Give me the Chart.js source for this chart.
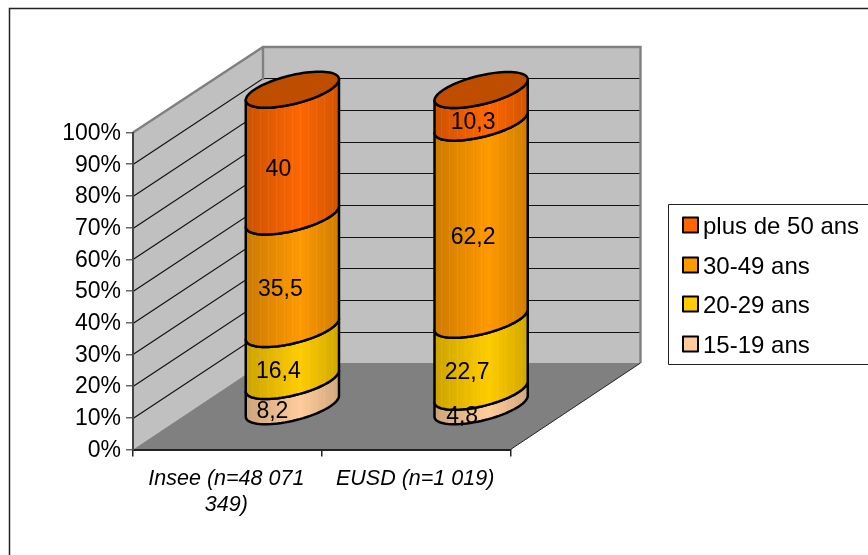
<!DOCTYPE html>
<html lang="fr">
<head>
<meta charset="utf-8">
<title>Tranches d'âge</title>
<script src="https://cdn.jsdelivr.net/npm/chart.js@4"></script>
<style>
  html, body { margin: 0; padding: 0; background: #fff; overflow: hidden; }
  canvas { display: block; }
</style>
</head>
<body>
<canvas id="ageChart" width="868" height="555"></canvas>
<script>
// Données
const categories = [['Insee (n=48 071', '349)'], 'EUSD (n=1 019)'];
const seriesNames = ['15-19 ans', '20-29 ans', '30-49 ans', 'plus de 50 ans'];
const ages15to19 = [8.2, 4.8];
const ages20to29 = [16.4, 22.7];
const ages30to49 = [35.5, 62.2];
const ages50plus = [40, 10.3];
const seriesValues = [ages15to19, ages20to29, ages30to49, ages50plus];
const seriesColors = ['#FFCC99', '#FFCC00', '#FF9900', '#FF6600'];

// Perspective du graphique
const wallDepthX = 130;
const wallDepthY = -86.5;
const barCenterX = 65;    // position des cylindres dans la profondeur
const barCenterY = -42.5;
const barRadiusX = 38;    // demi-axe le long de x
const barDepthX = 27;     // demi-axe dans la profondeur
const barDepthY = -18;
const barThickness = barRadiusX * 2;
const labelOffsetX = -14;
const labelOffsetY = 16.5;
// petits décalages des étiquettes, par série puis par barre
const labelShiftX = [[-6, -5], [0, 0], [2, 6], [0, 6]];
const labelShiftY = [[1.5, 1.5], [0, 0], [0, 0], [0, 0]];

const fontFamily = '"Liberation Sans", Arial, sans-serif';
const wallColor = '#C0C0C0';
const floorColor = '#808080';
const edgeColor = '#808080';
const gridColor = '#111';

function shade(hex, k) {
    let n = parseInt(hex.slice(1), 16);
    let r = Math.round((n >> 16 & 255) * k);
    let g = Math.round((n >> 8 & 255) * k);
    let b = Math.round((n & 255) * k);
    return `rgb(${r},${g},${b})`;
}

function polygon(ctx, points) {
    ctx.beginPath();
    points.forEach((p, i) => i ? ctx.lineTo(p[0], p[1]) : ctx.moveTo(p[0], p[1]));
    ctx.closePath();
}

// Murs, sol et quadrillage
function drawWalls(chart) {
    let ctx = chart.ctx;
    let area = chart.chartArea;
    let y = chart.scales.y;
    let dx = wallDepthX, dy = wallDepthY;
    let backLeft = area.left + dx;
    let backRight = area.right + dx;

    ctx.save();
    ctx.fillStyle = wallColor;
    polygon(ctx, [[area.left, area.bottom], [backLeft, area.bottom + dy], [backLeft, area.top + dy], [area.left, area.top]]);
    ctx.fill();
    ctx.fillRect(backLeft, area.top + dy, area.right - area.left, area.bottom - area.top);

    ctx.fillStyle = floorColor;
    polygon(ctx, [[area.left, area.bottom], [area.right, area.bottom], [backRight, area.bottom + dy], [backLeft, area.bottom + dy]]);
    ctx.fill();

    ctx.strokeStyle = gridColor;
    ctx.lineWidth = 1.2;
    y.ticks.forEach(tick => {
        if (tick.value === 0 || tick.value === 100) return;
        let py = Math.round(y.getPixelForValue(tick.value)) + 0.5;
        let backY = Math.round(py + dy) + 0.5;
        ctx.beginPath();
        ctx.moveTo(area.left, py);
        ctx.lineTo(backLeft, backY);
        ctx.lineTo(backRight, backY);
        ctx.stroke();
    });

    ctx.strokeStyle = edgeColor;
    ctx.lineWidth = 2.4;
    ctx.beginPath();
    ctx.moveTo(area.left, area.top);
    ctx.lineTo(backLeft, area.top + dy + 1);
    ctx.lineTo(backRight, area.top + dy + 1);
    ctx.lineTo(backRight, area.bottom + dy);
    ctx.moveTo(backLeft, area.top + dy + 1);
    ctx.lineTo(backLeft, area.top + dy + 34);
    ctx.stroke();

    // arête droite du sol
    ctx.strokeStyle = '#222';
    ctx.lineWidth = 1;
    ctx.beginPath();
    ctx.moveTo(area.right, area.bottom);
    ctx.lineTo(backRight, area.bottom + dy);
    ctx.stroke();
    ctx.restore();
}

// Points de la moitié avant d'une ellipse, de droite à gauche
function frontArc(cx, cy, reverse) {
    let start = Math.atan2(barDepthX, barRadiusX);
    let pts = [];
    for (let i = 0; i <= 40; i++) {
        let t = start - Math.PI * i / 40;
        pts.push([
            cx + barRadiusX * Math.cos(t) + barDepthX * Math.sin(t),
            cy + barDepthY * Math.sin(t)
        ]);
    }
    return reverse ? pts.reverse() : pts;
}

function ellipsePath(ctx, cx, cy) {
    ctx.beginPath();
    for (let i = 0; i <= 80; i++) {
        let t = Math.PI * 2 * i / 80;
        let px = cx + barRadiusX * Math.cos(t) + barDepthX * Math.sin(t);
        let py = cy + barDepthY * Math.sin(t);
        i ? ctx.lineTo(px, py) : ctx.moveTo(px, py);
    }
    ctx.closePath();
}

function drawCylinderPart(ctx, el, color) {
    let cx = el.x + barCenterX;
    let top = el.y + barCenterY;
    let bottom = el.base + barCenterY;
    let halfWidth = Math.hypot(barRadiusX, barDepthX);

    let outline = frontArc(cx, bottom, false).concat(frontArc(cx, top, true));
    let gradient = ctx.createLinearGradient(cx - halfWidth, 0, cx + halfWidth, 0);
    gradient.addColorStop(0, shade(color, 0.8));
    gradient.addColorStop(0.58, shade(color, 1));
    gradient.addColorStop(1, shade(color, 0.82));

    ctx.save();
    polygon(ctx, outline);
    ctx.fillStyle = gradient;
    ctx.fill();

    // raccords verticaux des facettes
    ctx.clip();
    ctx.strokeStyle = 'rgba(255,255,255,0.07)';
    ctx.lineWidth = 1;
    for (let x = cx - halfWidth + 6; x < cx + halfWidth; x += 8) {
        ctx.beginPath();
        ctx.moveTo(Math.round(x) + 0.5, top - 30);
        ctx.lineTo(Math.round(x) + 0.5, bottom + 30);
        ctx.stroke();
    }
    ctx.restore();

    polygon(ctx, outline);
    ctx.strokeStyle = '#000';
    ctx.lineWidth = 2.5;
    ctx.lineJoin = 'round';
    ctx.stroke();
}

// Cylindres empilés, posés à mi-profondeur du sol
function drawCylinders(chart) {
    let ctx = chart.ctx;
    categories.forEach((cat, j) => {
        let last = null;
        chart.data.datasets.forEach((ds, i) => {
            let el = chart.getDatasetMeta(i).data[j].getProps(['x', 'y', 'base'], true);
            drawCylinderPart(ctx, el, ds.backgroundColor);
            last = { el: el, color: ds.backgroundColor };
        });
        ellipsePath(ctx, last.el.x + barCenterX, last.el.y + barCenterY);
        ctx.fillStyle = shade(last.color, 0.75);
        ctx.fill();
        ctx.strokeStyle = '#000';
        ctx.lineWidth = 2.5;
        ctx.stroke();
    });
}

function drawValueLabels(chart) {
    let ctx = chart.ctx;
    ctx.save();
    ctx.font = '23px ' + fontFamily;
    ctx.fillStyle = '#000';
    ctx.textAlign = 'center';
    ctx.textBaseline = 'middle';
    chart.data.datasets.forEach((ds, i) => {
        chart.getDatasetMeta(i).data.forEach((bar, j) => {
            let el = bar.getProps(['x', 'y', 'base'], true);
            let x = el.x + barCenterX + labelOffsetX + labelShiftX[i][j];
            let y = (el.y + el.base) / 2 + barCenterY + labelOffsetY + labelShiftY[i][j];
            ctx.fillText(String(ds.data[j]).replace('.', ','), x, y);
        });
    });
    ctx.restore();
}

function drawLegend(chart) {
    let ctx = chart.ctx;
    let rowY = [225, 265, 304, 344];
    ctx.save();
    ctx.fillStyle = '#fff';
    ctx.fillRect(668.5, 204.5, 220, 160);
    ctx.strokeStyle = '#222';
    ctx.lineWidth = 1;
    ctx.strokeRect(668.5, 204.5, 220, 160);

    ctx.font = '24px ' + fontFamily;
    ctx.textBaseline = 'middle';
    chart.data.datasets.slice().reverse().forEach((ds, i) => {
        ctx.fillStyle = ds.backgroundColor;
        ctx.fillRect(683, rowY[i] - 7.5, 15, 15);
        ctx.strokeStyle = '#000';
        ctx.lineWidth = 2;
        ctx.strokeRect(683, rowY[i] - 7.5, 15, 15);
        ctx.fillStyle = '#000';
        ctx.fillText(ds.label, 703, rowY[i] + 2);
    });
    ctx.restore();
}

function drawFrame(chart) {
    let ctx = chart.ctx;
    ctx.save();
    ctx.strokeStyle = '#222';
    ctx.lineWidth = 1.5;
    ctx.beginPath();
    ctx.moveTo(9.5, 555);
    ctx.lineTo(9.5, 8.5);
    ctx.lineTo(868, 8.5);
    ctx.stroke();
    ctx.restore();
}

const cylinderPlugin = {
    id: 'cylinders',
    beforeDraw(chart) {
        drawFrame(chart);
        drawWalls(chart);
    },
    beforeDatasetsDraw(chart) {
        drawCylinders(chart);
        drawValueLabels(chart);
        drawLegend(chart);
        return false; // les barres plates ne sont pas dessinées
    }
};

new Chart(document.getElementById('ageChart'), {
    type: 'bar',
    data: {
        labels: categories,
        datasets: seriesNames.map((name, i) => ({
            label: name,
            data: seriesValues[i],
            backgroundColor: seriesColors[i],
            barThickness: barThickness
        }))
    },
    options: {
        responsive: false,
        animation: false,
        events: [],
        layout: { padding: { top: 132.5, right: 357.5, left: 0, bottom: 0 } },
        plugins: {
            legend: { display: false },
            tooltip: { enabled: false }
        },
        scales: {
            x: {
                stacked: true,
                afterFit: scale => { scale.height = 105.5; },
                border: { color: '#222', width: 2 },
                grid: { drawOnChartArea: false, tickLength: 7, color: '#222', lineWidth: 1.5 },
                ticks: {
                    autoSkip: false,
                    maxRotation: 0,
                    padding: 9,
                    labelOffset: -1,
                    color: '#000',
                    font: { family: fontFamily, size: 21.5, style: 'italic', lineHeight: 1.22 }
                }
            },
            y: {
                stacked: true,
                min: 0,
                max: 100,
                afterFit: scale => { scale.width = 133; },
                border: { color: '#444', width: 2 },
                grid: { drawOnChartArea: false, tickLength: 7, color: '#666', lineWidth: 1.5 },
                ticks: {
                    stepSize: 10,
                    padding: 5,
                    labelOffset: 1,
                    color: '#000',
                    font: { family: fontFamily, size: 23 },
                    callback: value => value + '%'
                }
            }
        }
    },
    plugins: [cylinderPlugin]
});
</script>
</body>
</html>
